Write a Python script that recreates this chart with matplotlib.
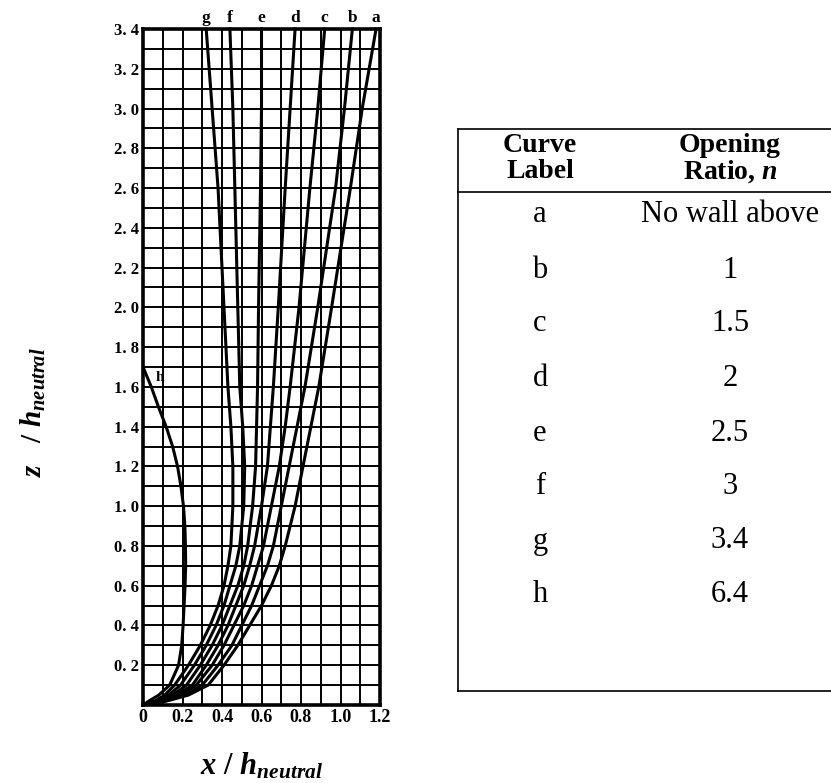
import numpy as np
import matplotlib
matplotlib.use("Agg")
import matplotlib.pyplot as plt
from matplotlib.lines import Line2D

plt.rcParams["font.family"] = ["Liberation Serif", "DejaVu Serif"]
plt.rcParams["mathtext.fontset"] = "custom"
plt.rcParams["mathtext.it"] = "Liberation Serif:italic:bold"
plt.rcParams["mathtext.rm"] = "Liberation Serif:bold"
plt.rcParams["mathtext.bf"] = "Liberation Serif:bold"

# heights z/h_neutral where the curves a-g were read
z_levels = [0, 0.02, 0.05, 0.1, 0.2, 0.3, 0.4, 0.5, 0.6, 0.7, 0.8,
            1.0, 1.2, 1.4, 1.6, 2.0, 2.6, 3.0, 3.4]

x_a = [0, 0.12, 0.23, 0.33, 0.41, 0.48, 0.54, 0.60, 0.65, 0.69, 0.72,
       0.77, 0.81, 0.85, 0.89, 0.955, 1.05, 1.11, 1.18]
x_b = [0, 0.11, 0.21, 0.30, 0.38, 0.45, 0.50, 0.55, 0.59, 0.63, 0.66,
       0.70, 0.74, 0.78, 0.82, 0.885, 0.975, 1.02, 1.06]
x_c = [0, 0.10, 0.19, 0.27, 0.35, 0.41, 0.46, 0.51, 0.55, 0.58, 0.61,
       0.65, 0.69, 0.72, 0.745, 0.79, 0.845, 0.885, 0.92]
x_d = [0, 0.09, 0.17, 0.25, 0.32, 0.38, 0.43, 0.47, 0.51, 0.54, 0.565,
       0.60, 0.63, 0.645, 0.66, 0.685, 0.72, 0.745, 0.77]
x_e = [0, 0.08, 0.15, 0.22, 0.29, 0.35, 0.40, 0.44, 0.48, 0.51, 0.53,
       0.555, 0.57, 0.575, 0.58, 0.585, 0.595, 0.60, 0.60]
x_f = [0, 0.07, 0.13, 0.19, 0.26, 0.32, 0.37, 0.41, 0.44, 0.47, 0.49,
       0.51, 0.515, 0.505, 0.49, 0.48, 0.465, 0.455, 0.44]
x_g = [0, 0.06, 0.11, 0.16, 0.23, 0.29, 0.34, 0.38, 0.41, 0.43, 0.445,
       0.455, 0.455, 0.445, 0.43, 0.41, 0.38, 0.35, 0.32]

# curve h (n = 6.4) falls back onto the wall
z_h = [0, 0.02, 0.05, 0.1, 0.2, 0.3, 0.4, 0.5, 0.6, 0.7, 0.8, 0.9,
       1.0, 1.1, 1.2, 1.3, 1.4, 1.5, 1.6, 1.7]
x_h = [0, 0.03, 0.08, 0.135, 0.18, 0.196, 0.203, 0.208, 0.213, 0.216, 0.215,
       0.212, 0.205, 0.192, 0.175, 0.15, 0.117, 0.078, 0.042, 0.0]

curve_labels = ["a", "b", "c", "d", "e", "f", "g"]
curve_x = [x_a, x_b, x_c, x_d, x_e, x_f, x_g]

table_labels = ["a", "b", "c", "d", "e", "f", "g", "h"]
table_ratios = ["No wall above", "1", "1.5", "2", "2.5", "3", "3.4", "6.4"]

W, H = 831, 783
fig = plt.figure(figsize=(W / 100, H / 100), dpi=100)

def fx(px):
    return px / W

def fy(py):
    return 1 - py / H

ax = fig.add_axes([fx(143), fy(705), (380 - 143) / W, (705 - 29) / H])
ax.set_xlim(0, 1.2)
ax.set_ylim(0, 3.4)

# square grid every 0.1
for gx in np.arange(0.1, 1.2, 0.1):
    ax.axvline(gx, color="black", lw=1.4, zorder=1)
for gz in np.arange(0.1, 3.4, 0.1):
    ax.axhline(gz, color="black", lw=1.4, zorder=1)

for lab, xs in zip(curve_labels, curve_x):
    ax.plot(xs, z_levels, color="black", lw=2.2, zorder=3, clip_on=False)
    ax.annotate(lab, (xs[-1], 3.4), xytext=(0, 2), textcoords="offset points",
                ha="center", va="bottom", fontsize=12.5, fontweight="bold",
                annotation_clip=False)

ax.plot(x_h, z_h, color="black", lw=2.2, zorder=3)
ax.text(0.085, 1.645, "h", fontsize=11, fontweight="bold", ha="center", va="center")

for s in ax.spines.values():
    s.set_linewidth(2.6)

xt = [0, 0.2, 0.4, 0.6, 0.8, 1.0, 1.2]
ax.set_xticks(xt)
ax.set_xticklabels(["0", "0.2", "0.4", "0.6", "0.8", "1.0", "1.2"],
                   fontsize=13, fontweight="bold")
yt = np.round(np.arange(0.2, 3.41, 0.2), 1)
ax.set_yticks(yt)
ax.set_yticklabels([f"{v:.1f}".replace(".", ". ") for v in yt],
                   fontsize=12, fontweight="bold")
ax.tick_params(length=0, pad=3)

fig.text(fx(261), fy(766), r"$x\ /\ h_{neutral}$", fontsize=22,
         ha="center", va="center")
fig.text(fx(33), fy(412), r"$z\ \ \ /\ h_{neutral}$", fontsize=21,
         rotation=90, ha="center", va="center")

# opening ratio table
col1, col2 = 540, 730
top, rule, bottom, left = 129, 192, 691, 458
for yy in (top, rule, bottom):
    fig.add_artist(Line2D([fx(left), 1], [fy(yy), fy(yy)], color="black", lw=1.2))
fig.add_artist(Line2D([fx(left), fx(left)], [fy(top), fy(bottom)], color="black", lw=1.2))

fig.text(fx(col1), fy(146), "Curve", fontsize=20, fontweight="bold", ha="center", va="center")
fig.text(fx(col1), fy(172), "Label", fontsize=20, fontweight="bold", ha="center", va="center")
fig.text(fx(col2), fy(146), "Opening", fontsize=20, fontweight="bold", ha="center", va="center")
fig.text(fx(col2), fy(172), r"Ratio, $n$", fontsize=20, fontweight="bold",
         ha="center", va="center")

row_y = [215, 270, 324, 379, 433, 487, 541, 595]
for yy, lab, r in zip(row_y, table_labels, table_ratios):
    fig.text(fx(col1), fy(yy), lab, fontsize=22, ha="center", va="center")
    fig.text(fx(col2), fy(yy), r, fontsize=22, ha="center", va="center")

fig.savefig("out.png", dpi=100)
